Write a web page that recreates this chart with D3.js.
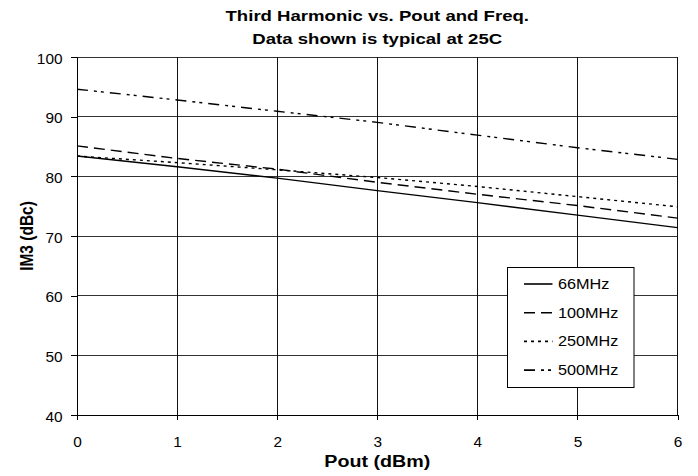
<!DOCTYPE html>
<html><head><meta charset="utf-8">
<script src="https://cdn.jsdelivr.net/npm/d3@7"></script>
<style>body{margin:0;background:#fff}</style>
</head><body>
<svg id="c" width="698" height="476"></svg>
<script>
const pout = [0, 1, 2, 3, 4, 5, 6];
const im3_66 = [83.4, 81.6, 79.7, 77.6, 75.6, 73.5, 71.4];
const im3_100 = [85.1, 83.0, 81.2, 79.0, 77.0, 75.1, 73.0];
const im3_250 = [83.4, 82.3, 81.1, 79.8, 78.3, 76.6, 74.9];
const im3_500 = [94.6, 92.8, 90.9, 89.05, 86.9, 84.8, 82.85];
const seriesNames = ["66MHz", "100MHz", "250MHz", "500MHz"];
const xTicks = [0, 1, 2, 3, 4, 5, 6];
const yTicks = [40, 50, 60, 70, 80, 90, 100];
const titleLines = ["Third Harmonic vs. Pout and Freq.", "Data shown is typical at 25C"];

const series = [
  {name: seriesNames[0], vals: im3_66, dash: null},
  {name: seriesNames[1], vals: im3_100, dash: "11,6"},
  {name: seriesNames[2], vals: im3_250, dash: "3,4"},
  {name: seriesNames[3], vals: im3_500, dash: "11,6,3,4,3,6"}
];

const svg = d3.select("#c");
const L = 77, R = 677.5, T = 57, B = 415;
const x = d3.scaleLinear().domain([0, 6]).range([L, R]);
const y = d3.scaleLinear().domain([40, 100]).range([B, T]);
const font = "Arial, 'Liberation Sans', sans-serif";

// horizontally stretched text helper
function stext(g, tx, ty, str, size, sx, anchor, bold) {
  const gg = g.append("g").attr("transform", `translate(${tx},${ty}) scale(${sx},1)`);
  gg.append("text").attr("x", 0).attr("y", 0).attr("text-anchor", anchor)
    .attr("font-family", font).attr("font-size", size)
    .attr("font-weight", bold ? "bold" : "normal").attr("fill", "#000").text(str);
  return gg;
}

// gridlines
svg.append("g").selectAll("line").data(yTicks).join("line")
  .attr("x1", L).attr("x2", R).attr("y1", d => y(d)).attr("y2", d => y(d))
  .attr("stroke", "#333").attr("stroke-width", 1).attr("shape-rendering", "crispEdges");
svg.append("g").selectAll("line").data(xTicks).join("line")
  .attr("x1", d => x(d)).attr("x2", d => x(d)).attr("y1", T).attr("y2", B)
  .attr("stroke", "#111").attr("stroke-width", 1).attr("shape-rendering", "crispEdges");

// axes
const xa = svg.append("g").attr("transform", `translate(0,${B})`)
  .call(d3.axisBottom(x).tickValues(xTicks).tickSize(5).tickPadding(17).tickFormat(d3.format("d")));
const ya = svg.append("g").attr("transform", `translate(${L},0)`)
  .call(d3.axisLeft(y).tickValues(yTicks).tickSize(6).tickPadding(8.5).tickFormat(d3.format("d")));
[xa, ya].forEach(a => {
  a.selectAll("text").attr("font-family", font).attr("font-size", 14).attr("fill", "#000");
  a.selectAll("line,path").attr("stroke", "#000").attr("shape-rendering", "crispEdges");
});
xa.selectAll("text").attr("transform", "scale(1.1,1)");
ya.selectAll("text").attr("x", -14.5 / 1.1).attr("dy", "0.43em").attr("transform", "scale(1.1,1)");

// lines
const line = d3.line().x((d, i) => x(pout[i])).y(d => y(d));
series.forEach(s => {
  svg.append("path").datum(s.vals).attr("d", line)
    .attr("fill", "none").attr("stroke", "#000").attr("stroke-width", 1.4)
    .attr("stroke-dasharray", s.dash);
});

// title
titleLines.forEach((t, i) => stext(svg, (L + R) / 2, 21 + i * 23.3, t, 15, 1.24, "middle", true));

// axis labels
stext(svg, (L + R) / 2, 467, "Pout (dBm)", 16, 1.23, "middle", true);
svg.append("g").attr("transform", `translate(33,${(T + B) / 2}) rotate(-90) scale(1,1.2)`)
  .append("text").attr("text-anchor", "middle").attr("font-family", font)
  .attr("font-weight", "bold").attr("font-size", 15.5).text("IM3 (dBc)");

// legend
const lg = svg.append("g");
lg.append("rect").attr("x", 507.5).attr("y", 267.5).attr("width", 126.5).attr("height", 120)
  .attr("fill", "#fff").attr("stroke", "#000").attr("stroke-width", 1);
series.forEach((s, i) => {
  const yy = 284 + i * 28.7;
  lg.append("line").attr("x1", 524).attr("x2", 552.5).attr("y1", yy).attr("y2", yy)
    .attr("stroke", "#000").attr("stroke-width", 1.6).attr("stroke-dasharray", s.dash);
  stext(lg, 558, yy + 5, s.name, 14, 1.16, "start", false);
});
</script>
</body></html>
